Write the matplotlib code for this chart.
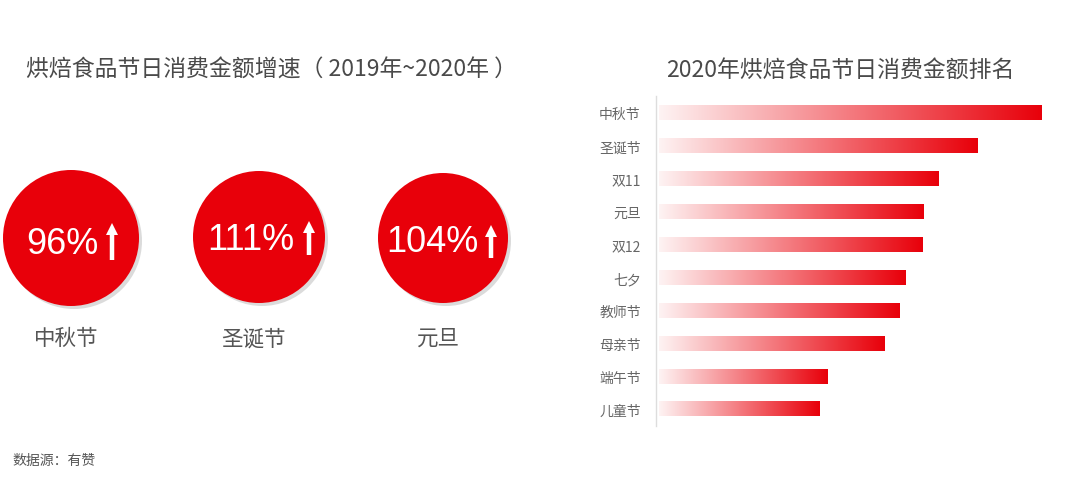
import numpy as np
import matplotlib.pyplot as plt
from matplotlib.patches import Circle, FancyArrow
from matplotlib.colors import LinearSegmentedColormap

plt.rcParams['font.family'] = ['Noto Sans CJK SC', 'DejaVu Sans']

# 增速 (2019~2020)
growth_names = ['中秋节', '圣诞节', '元旦']
growth_values = [96, 111, 104]

# 2020 排名 (相对长度, 读图估计)
rank_names = ['中秋节', '圣诞节', '双11', '元旦', '双12', '七夕', '教师节', '母亲节', '端午节', '儿童节']
rank_values = [100, 83.3, 73.1, 69.2, 68.7, 64.5, 62.7, 59.0, 44.1, 42.0]

RED = '#E8000A'
W, H = 1080, 489

fig = plt.figure(figsize=(W / 100, H / 100), dpi=100)

# ---- 左侧：圆形指标 (像素坐标的叠加轴) ----
ax0 = fig.add_axes([0, 0, 1, 1])
ax0.set_xlim(0, W)
ax0.set_ylim(H, 0)
ax0.axis('off')

ax0.text(271, 70, '烘焙食品节日消费金额增速（ 2019年~2020年 ）', ha='center', va='center',
         fontsize=16.5, color='#4a4a4a')
ax0.text(840, 70, '2020年烘焙食品节日消费金额排名', ha='center', va='center',
         fontsize=16.5, color='#4a4a4a')
ax0.text(12, 461, '数据源：有赞', ha='left', va='center', fontsize=10, color='#555555')

centers = [(71, 239), (259, 238), (443, 239)]
radii = [68, 66, 65]
text_pos = [(62, 245), (251, 240), (432, 243)]
arrow_x = [112, 309, 491]
arrow_top = [224, 222, 226]
arrow_bot = [261, 256, 259]

for i, name in enumerate(growth_names):
    cx, cy = centers[i]
    r = radii[i]
    ax0.add_patch(Circle((cx + 3, cy + 3), r, color='#999999', alpha=0.35, lw=0))
    ax0.add_patch(Circle((cx, cy), r, color=RED, lw=0))
    tx, ty = text_pos[i]
    ax0.text(tx, ty, f'{growth_values[i]}%', ha='center', va='center', color='white',
             fontsize=26, family=['Liberation Sans', 'DejaVu Sans'])
    L = arrow_bot[i] - arrow_top[i]
    ax0.add_patch(FancyArrow(arrow_x[i], arrow_bot[i], 0, -L, width=4.5, head_width=12,
                             head_length=12, length_includes_head=True, color='white', lw=0))
    ax0.text(cx - 5, 339, name, ha='center', va='center', fontsize=15.5, color='#555555')

# ---- 右侧：渐变条形图 ----
ax = fig.add_axes([656 / W, 1 - 426.5 / H, 386 / W, 329 / H])

cmap = LinearSegmentedColormap.from_list('grad', ['#FEF3F3', '#F47A7F', RED])
grad = np.linspace(0, 1, 256).reshape(1, -1)
bar_h = 0.45
for i, v in enumerate(rank_values):
    ax.imshow(grad, cmap=cmap, aspect='auto', extent=(0, v, i + bar_h / 2, i - bar_h / 2),
              interpolation='bilinear')

ax.set_yticks(range(len(rank_names)))
ax.set_yticklabels(rank_names, fontsize=10, color='#666666')
ax.tick_params(axis='y', length=0, pad=11)
ax.set_xticks([])
for s in ['top', 'right', 'bottom']:
    ax.spines[s].set_visible(False)
ax.spines['left'].set_color('#DDDDDD')
ax.spines['left'].set_linewidth(1)
ax.set_xlim(-0.8, 100)
ax.set_ylim(len(rank_names) - 0.5, -0.5)

fig.savefig('out.png', dpi=100)
